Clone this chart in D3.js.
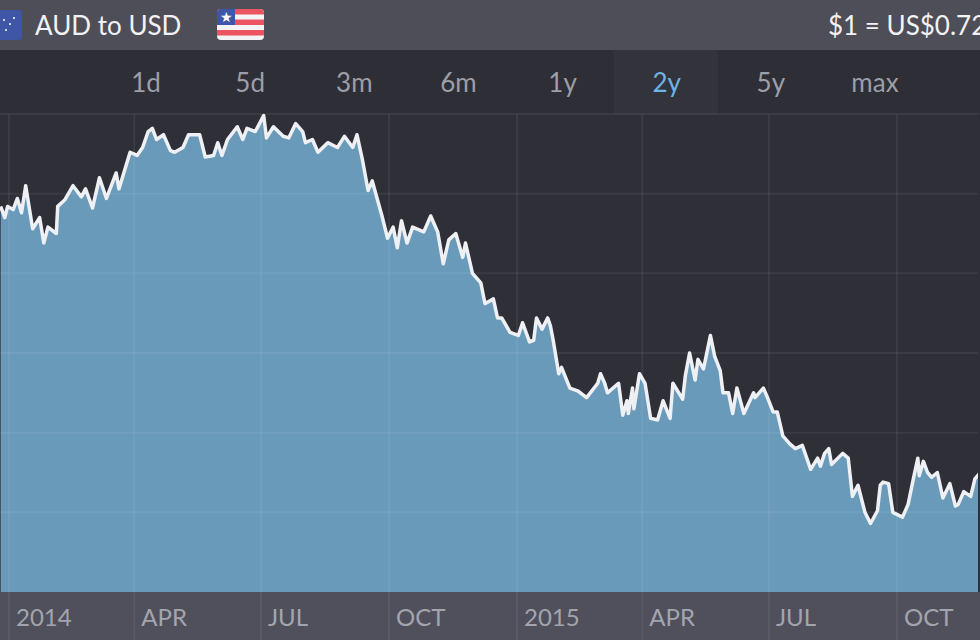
<!DOCTYPE html>
<html><head><meta charset="utf-8">
<script src="https://cdn.jsdelivr.net/npm/d3@7"></script>
<style>html,body{margin:0;padding:0;background:#2f2f38;overflow:hidden}</style>
</head><body><svg id="c" width="980" height="640"></svg>
<script>
// days since 2014-01-01
const days=[-6,-3,-1,3,6,9,12,17,22,25,28,34,35,40,46,52,55,60,65,70,77,79,87,92,96,100,103,106,111,116,119,125,129,137,141,147,150,153,157,164,168,171,177,183,185,190,197,201,206,211,213,218,222,229,236,241,247,250,254,258,261,268,272,276,279,282,286,290,298,303,308,312,316,321,326,328,333,339,342,346,348,351,354,360,366,369,374,377,379,383,387,389,391,395,397,403,409,415,423,425,428,430,438,441,444,445,448,449,453,457,461,466,470,475,477,484,486,489,493,495,499,504,507,511,513,517,520,523,528,535,536,542,545,549,552,556,561,565,570,572,576,581,583,586,589,591,599,603,606,610,615,619,624,626,628,632,635,642,646,650,653,654,657,660,663,667,671,676,680,682,686,691,694,698];
const rates=[0.892,0.885,0.892,0.890,0.897,0.888,0.905,0.878,0.885,0.869,0.879,0.875,0.892,0.896,0.905,0.898,0.903,0.891,0.910,0.897,0.913,0.903,0.926,0.924,0.929,0.939,0.941,0.934,0.937,0.927,0.926,0.929,0.937,0.937,0.923,0.924,0.932,0.924,0.934,0.942,0.934,0.941,0.939,0.949,0.935,0.942,0.936,0.935,0.944,0.939,0.932,0.934,0.926,0.932,0.929,0.936,0.929,0.937,0.921,0.902,0.908,0.886,0.872,0.879,0.866,0.883,0.869,0.879,0.876,0.886,0.876,0.856,0.871,0.875,0.860,0.869,0.850,0.844,0.831,0.833,0.834,0.822,0.822,0.813,0.811,0.819,0.807,0.808,0.822,0.815,0.822,0.817,0.808,0.787,0.791,0.778,0.776,0.772,0.781,0.787,0.781,0.775,0.781,0.761,0.770,0.762,0.778,0.765,0.787,0.781,0.759,0.758,0.770,0.759,0.781,0.771,0.786,0.800,0.783,0.796,0.790,0.811,0.798,0.789,0.775,0.775,0.762,0.778,0.762,0.775,0.772,0.778,0.772,0.763,0.763,0.748,0.743,0.740,0.742,0.737,0.727,0.734,0.729,0.737,0.740,0.730,0.737,0.734,0.710,0.717,0.700,0.693,0.701,0.717,0.719,0.718,0.700,0.697,0.705,0.722,0.734,0.723,0.732,0.725,0.722,0.725,0.709,0.718,0.704,0.705,0.713,0.710,0.721,0.725,0.722];
const tabs=["1d","5d","3m","6m","1y","2y","5y","max"];
const selectedTab="2y";
const yTicks=[0.95,0.90,0.85,0.80,0.75,0.70,0.65];
const xTickLabels=["2014","APR","JUL","OCT","2015","APR","JUL","OCT"];

const svg=d3.select("#c");
const F="Lato, 'Open Sans', sans-serif";
const base=new Date(2014,0,1);
const data=days.map((d,i)=>({date:d3.timeDay.offset(base,d),v:rates[i]}));
const x=d3.scaleTime().domain([new Date(2014,0,1),new Date(2015,0,1)]).range([9,517]);
const y=d3.scaleLinear().domain([0.65,0.95]).range([592,114]);

svg.append("rect").attr("width",980).attr("height",50).attr("fill","#4e4e59");
svg.append("rect").attr("y",50).attr("width",980).attr("height",64).attr("fill","#2e2e36");
svg.append("rect").attr("y",114).attr("width",980).attr("height",478).attr("fill","#2f2f38");
svg.append("rect").attr("y",592).attr("width",980).attr("height",48).attr("fill","#50505c");

// header
svg.append("rect").attr("x",-8).attr("y",10).attr("width",30).attr("height",30).attr("rx",4).attr("fill","#3f55a6");
[[4,20],[10,24],[6,30],[14,18]].forEach(p=>svg.append("circle").attr("cx",p[0]).attr("cy",p[1]).attr("r",1).attr("fill","#fff"));
svg.append("text").attr("x",35).attr("y",35).attr("font-family",F).attr("font-size",26).attr("fill","#f2f2f4").text("AUD to USD");
const fg=svg.append("g").attr("transform","translate(217,9)");
fg.append("clipPath").attr("id","fc").append("rect").attr("width",47).attr("height",31).attr("rx",4);
const fgi=fg.append("g").attr("clip-path","url(#fc)");
fgi.append("rect").attr("width",47).attr("height",31).attr("fill","#f4f4f6");
[0,10.5,21].forEach(s=>fgi.append("rect").attr("y",s).attr("width",47).attr("height",5.5).attr("fill","#ec5461"));
fgi.append("rect").attr("width",18).attr("height",16).attr("fill","#3f55a6");
fgi.append("text").attr("x",9).attr("y",13).attr("text-anchor","middle").attr("font-size",14).attr("fill","#fff").text("★");
svg.append("text").attr("x",828).attr("y",35).attr("font-family",F).attr("font-size",26).attr("fill","#f2f2f4").text("$1 = US$0.7228");

// tabs
const tabX=d3.scalePoint().domain(tabs).range([146,875]);
svg.append("rect").attr("x",614).attr("y",50).attr("width",104).attr("height",64).attr("fill","#33333c");
svg.selectAll(".tab").data(tabs).join("text").attr("x",d=>tabX(d)).attr("y",92).attr("text-anchor","middle")
 .attr("font-family",F).attr("font-size",26).attr("fill",d=>d===selectedTab?"#6db4e8":"#9c9ea8").text(d=>d);

// area
svg.append("path").datum(data).attr("fill","#6a9aba")
 .attr("d",d3.area().x(d=>x(d.date)).y0(592).y1(d=>y(d.v)));
// grid
const qt=d3.timeMonth.every(3).range(new Date(2014,0,1),new Date(2015,11,1));
svg.selectAll(".vg").data(qt).join("line").attr("x1",d=>x(d)).attr("x2",d=>x(d)).attr("y1",114).attr("y2",640)
 .attr("stroke","#ffffff").attr("stroke-opacity",0.06).attr("stroke-width",2);
svg.selectAll(".hg").data(yTicks.slice(0,6)).join("line").attr("x1",0).attr("x2",980).attr("y1",d=>y(d)).attr("y2",d=>y(d))
 .attr("stroke","#ffffff").attr("stroke-opacity",0.06).attr("stroke-width",2);
svg.append("path").datum(data).attr("fill","none").attr("stroke","#eef0f3").attr("stroke-width",3.5).attr("stroke-linejoin","round")
 .attr("d",d3.line().x(d=>x(d.date)).y(d=>y(d.v)));
svg.append("rect").attr("x",978).attr("y",114).attr("width",2).attr("height",478).attr("fill","#2f2f38");

// x labels
svg.selectAll(".xl").data(qt).join("text").attr("x",d=>x(d)+7).attr("y",626)
 .attr("font-family",F).attr("font-size",24).attr("fill","#a3a5ae").text((d,i)=>xTickLabels[i]);
</script></body></html>
